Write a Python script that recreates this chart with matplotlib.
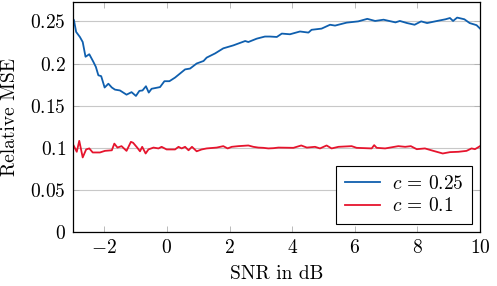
import matplotlib
matplotlib.use("Agg")
import matplotlib.pyplot as plt
from matplotlib.ticker import FuncFormatter

# SNR values (dB) and relative MSE
snr_a = [-3.0, -2.97, -2.9, -2.78, -2.69, -2.6, -2.48, -2.35, -2.27, -2.19, -2.1,
         -1.99, -1.87, -1.76, -1.66, -1.5, -1.29, -1.13, -0.99, -0.88, -0.78,
         -0.67, -0.58, -0.49, -0.22, -0.08, 0.08, 0.26, 0.58, 0.74, 0.95, 1.17,
         1.27, 1.54, 1.8, 2.12, 2.5, 2.6, 2.87, 3.13, 3.29, 3.51, 3.67, 3.93,
         4.25, 4.52, 4.62, 4.94, 5.21, 5.37, 5.74, 6.11, 6.4, 6.65, 6.92, 7.3,
         7.44, 7.67, 7.91, 8.12, 8.31, 8.63, 8.9, 9.04, 9.14, 9.27, 9.5, 9.67,
         9.89, 10.0]
mse_a = [0.253, 0.2515, 0.2375, 0.2315, 0.2255, 0.208, 0.211, 0.202, 0.196, 0.186,
         0.185, 0.1715, 0.176, 0.1715, 0.169, 0.168, 0.163, 0.166, 0.1615, 0.1675,
         0.168, 0.173, 0.1655, 0.170, 0.172, 0.179, 0.179, 0.1833, 0.193, 0.194,
         0.200, 0.203, 0.207, 0.212, 0.218, 0.2215, 0.2267, 0.2255, 0.2295, 0.232,
         0.232, 0.2315, 0.2355, 0.2347, 0.238, 0.2367, 0.240, 0.2414, 0.246, 0.245,
         0.2485, 0.250, 0.253, 0.2505, 0.252, 0.2488, 0.2505, 0.248, 0.246, 0.250,
         0.248, 0.2505, 0.2525, 0.254, 0.2505, 0.2545, 0.2525, 0.248, 0.2455, 0.2415]

snr_b = [-3.0, -2.97, -2.88, -2.8, -2.69, -2.58, -2.48, -2.37, -2.14, -1.98, -1.76,
         -1.68, -1.58, -1.45, -1.29, -1.15, -1.08, -0.95, -0.86, -0.79, -0.68,
         -0.59, -0.43, -0.27, -0.17, -0.01, 0.26, 0.37, 0.47, 0.58, 0.69, 0.8,
         0.95, 1.11, 1.27, 1.59, 1.8, 1.94, 2.07, 2.28, 2.6, 2.76, 2.92, 3.08,
         3.24, 3.4, 3.56, 4.04, 4.29, 4.47, 4.73, 4.89, 5.1, 5.26, 5.48, 5.9,
         6.06, 6.54, 6.62, 6.7, 6.97, 7.39, 7.61, 7.79, 7.98, 8.24, 8.51, 8.81,
         9.04, 9.31, 9.57, 9.73, 9.84, 10.0]
mse_b = [0.104, 0.1019, 0.0952, 0.1082, 0.0885, 0.098, 0.0992, 0.0944, 0.0944, 0.0963,
         0.097, 0.1049, 0.1002, 0.1019, 0.0963, 0.107, 0.1059, 0.1002, 0.0958, 0.1011,
         0.0932, 0.098, 0.1002, 0.0992, 0.1011, 0.098, 0.098, 0.1011, 0.0992, 0.1011,
         0.097, 0.1011, 0.0958, 0.098, 0.0992, 0.1002, 0.1019, 0.0992, 0.1011, 0.1019,
         0.1027, 0.1011, 0.1002, 0.0999, 0.0992, 0.0995, 0.1002, 0.0999, 0.1027, 0.1002,
         0.1011, 0.0992, 0.1027, 0.0992, 0.1011, 0.1019, 0.0999, 0.0992, 0.1031, 0.0999,
         0.0992, 0.1019, 0.1011, 0.1019, 0.0983, 0.0992, 0.0963, 0.0932, 0.0948, 0.0952,
         0.0963, 0.0992, 0.0983, 0.1019]

x_ticks = [-2, 0, 2, 4, 6, 8, 10]
y_ticks = [0, 0.05, 0.1, 0.15, 0.2, 0.25]

plt.rcParams['font.family'] = 'serif'
plt.rcParams['font.serif'] = ['cmr10']
plt.rcParams['mathtext.fontset'] = 'cm'
plt.rcParams['axes.formatter.use_mathtext'] = True

fig = plt.figure(figsize=(4.97, 2.86), dpi=100)
ax = fig.add_axes([73/497, 1 - 232/286, 407/497, 230/286])

ax.plot(snr_a, mse_a, color='#0f5fae', lw=1.3, label=r'$c\,=\,0.25$')
ax.plot(snr_b, mse_b, color='#e6142d', lw=1.3, label=r'$c\,=\,0.1$')

ax.set_xlim(-3, 10)
ax.set_ylim(0, 0.273)
ax.set_xticks(x_ticks)
ax.set_yticks(y_ticks)
ax.xaxis.set_major_formatter(FuncFormatter(lambda v, p: r'$%g$' % v))
ax.yaxis.set_major_formatter(FuncFormatter(lambda v, p: r'$%g$' % v))
ax.yaxis.grid(True, color='#c8c8c8', lw=0.8)
ax.set_axisbelow(True)
ax.tick_params(direction='in', top=True, right=True, length=4,
               width=0.6, color='#b0b0b0', labelsize=14, pad=5)
for s in ax.spines.values():
    s.set_linewidth(0.9)

ax.set_xlabel('SNR in dB', fontsize=14, labelpad=6)
ax.set_ylabel('Relative MSE', fontsize=14, labelpad=8)

leg = ax.legend(loc='lower right', fontsize=14, fancybox=False, framealpha=1,
                edgecolor='black', borderaxespad=0.4, handlelength=1.8,
                handletextpad=0.6, labelspacing=0.25, borderpad=0.45)
leg.get_frame().set_linewidth(0.8)

fig.savefig('out.png', dpi=100)
